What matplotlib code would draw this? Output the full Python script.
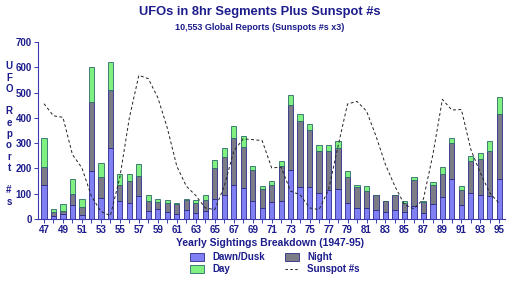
import numpy as np
import matplotlib.pyplot as plt
from matplotlib import font_manager
from matplotlib.lines import Line2D
from matplotlib.patches import Patch

# Datos
years = np.arange(47, 96)
dawn = [136, 11, 21, 57, 16, 190, 83, 279, 70, 63, 92, 32, 40, 29, 21, 37, 25,
        32, 81, 96, 135, 124, 71, 45, 66, 71, 192, 128, 128, 104, 115, 119, 63,
        44, 44, 37, 29, 37, 26, 53, 24, 61, 87, 160, 57, 104, 96, 92, 160]
night = [71, 17, 11, 42, 30, 274, 83, 232, 66, 89, 78, 39, 27, 36, 37, 38, 38,
         45, 121, 150, 187, 161, 121, 75, 69, 139, 257, 258, 223, 165, 154, 160, 105,
         81, 66, 57, 41, 57, 39, 102, 43, 75, 90, 140, 59, 126, 143, 177, 255]
day = [114, 10, 27, 61, 32, 136, 56, 111, 42, 26, 48, 25, 14, 10, 7, 4, 12,
       18, 30, 34, 47, 43, 18, 12, 17, 20, 40, 29, 25, 24, 24, 30, 22,
       11, 19, 2, 3, 2, 5, 13, 3, 12, 29, 21, 16, 20, 23, 40, 68]
sunspot = [456, 408, 402, 255, 202, 90, 30, 13, 165, 400, 568, 555, 480, 360, 209, 130, 93,
           44, 37, 129, 268, 317, 314, 310, 202, 205, 110, 96, 44, 37, 116, 288, 455,
           465, 427, 328, 215, 129, 57, 40, 79, 255, 473, 431, 433, 275, 182, 103, 61]

navy = '#1c1c8c'
c_dawn = '#8080f4'
c_night = '#7c7c86'
c_day = '#80f080'
edge = '#2a2a8a'

# fuente estrecha para el subtitulo si existe
nombres = {f.name for f in font_manager.fontManager.ttflist}
if 'Liberation Sans Narrow' in nombres:
    sub_font, sub_size = 'Liberation Sans Narrow', 7.5
else:
    sub_font, sub_size = 'Liberation Sans', 6.5

fig = plt.figure(figsize=(5.2, 2.82), dpi=100)
ax = fig.add_axes([38 / 520, 1 - 219 / 282, 467 / 520, 177 / 282])

dawn = np.array(dawn)
night = np.array(night)
day = np.array(day)
w = 0.55
ax.bar(years, dawn, w, color=c_dawn, edgecolor=edge, linewidth=0.6)
ax.bar(years, night, w, bottom=dawn, color=c_night, edgecolor=edge, linewidth=0.6)
ax.bar(years, day, w, bottom=dawn + night, color=c_day, edgecolor='#2a6a6a', linewidth=0.6)
ax.plot(years, sunspot, color='#222222', linestyle=(0, (3, 2.5)), linewidth=0.7)

ax.set_xlim(46.37, 95.6)
ax.set_ylim(0, 700)
ax.set_yticks(range(0, 701, 100))
ax.set_xticks(years, minor=True)
ax.set_xticks(years[::2])
ax.set_xticklabels([str(y) for y in years[::2]])

for s in ['top', 'right']:
    ax.spines[s].set_visible(False)
for s in ['left', 'bottom']:
    ax.spines[s].set_color('#3a3ab0')
    ax.spines[s].set_linewidth(0.8)
ax.tick_params(axis='both', which='both', colors='#3a3ab0', length=3, width=0.7,
               labelcolor=navy, labelsize=7, pad=1.5)
for lab in ax.get_xticklabels() + ax.get_yticklabels():
    lab.set_fontweight('bold')
    lab.set_family('Liberation Sans')

fig.text(0.5, 1 - 12 / 282, 'UFOs in 8hr Segments Plus Sunspot #s', ha='center', va='center',
         color=navy, fontsize=9.3, fontweight='bold', family='Liberation Sans')
fig.text(0.5, 1 - 27 / 282, '10,553 Global Reports (Sunspots #s x3)', ha='center', va='center',
         color=navy, fontsize=sub_size, fontweight='bold', family=sub_font)
fig.text(270 / 520, 1 - 243 / 282, 'Yearly Sightings Breakdown (1947-95)', ha='center', va='center',
         color=navy, fontsize=7.5, fontweight='bold', family='Liberation Sans')
fig.text(9 / 520, 1 - 134 / 282, 'U\nF\nO\n\nR\ne\np\no\nr\nt\n\n#\ns', ha='center', va='center',
         color=navy, fontsize=7, fontweight='bold', family='Liberation Sans', linespacing=1.16)

handles = [Patch(facecolor=c_dawn, edgecolor=edge, linewidth=0.6),
           Patch(facecolor=c_day, edgecolor='#2a6a6a', linewidth=0.6),
           Patch(facecolor=c_night, edgecolor=edge, linewidth=0.6),
           Line2D([], [], color='#222222', linestyle=(0, (2.5, 2.5)), linewidth=0.7)]
labels = ['Dawn/Dusk', 'Day', 'Night', 'Sunspot #s']
leg = fig.legend(handles, labels, ncol=2, loc='upper left', bbox_to_anchor=(190 / 520, 1 - 252 / 282),
                 frameon=False, fontsize=7, handlelength=1.4, handleheight=0.9,
                 columnspacing=2.05, labelspacing=0.25, handletextpad=0.9,
                 borderpad=0, borderaxespad=0)
for t in leg.get_texts():
    t.set_color(navy)
    t.set_fontweight('bold')
    t.set_family('Liberation Sans')

fig.savefig('out.png', dpi=100)
